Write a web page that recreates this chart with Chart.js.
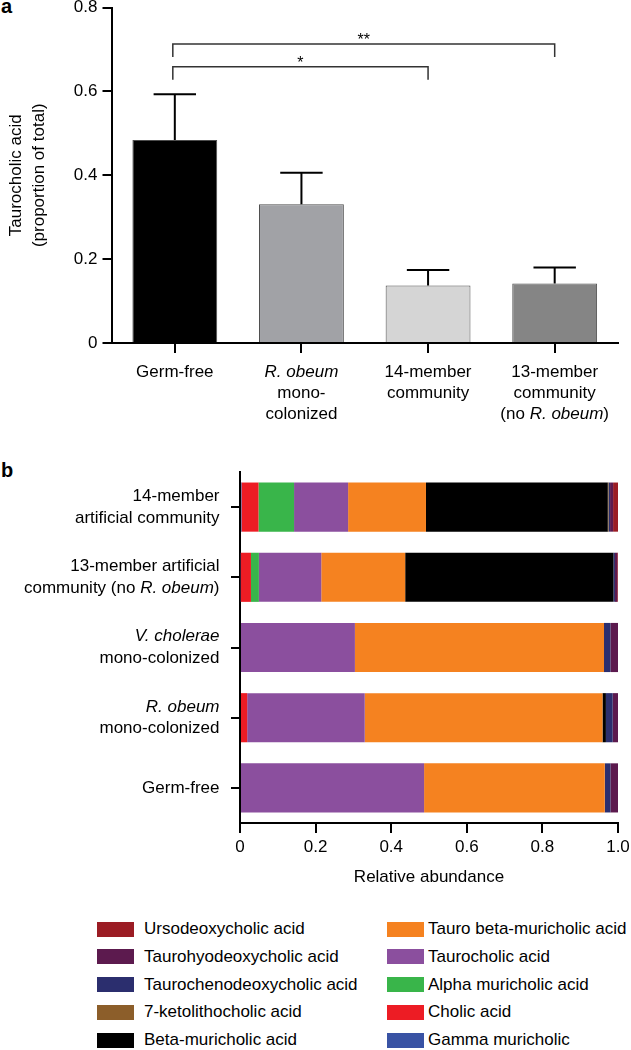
<!DOCTYPE html>
<html>
<head>
<meta charset="utf-8">
<script src="https://cdn.jsdelivr.net/npm/chart.js@4.4.1/dist/chart.umd.min.js"></script>
<style>
  body { margin: 0; background: #fff; font-family: "Liberation Sans", Arial, Helvetica, sans-serif; }
  #wrap { position: relative; width: 631px; height: 1050px; overflow: hidden; }
  #boxA { position: absolute; left: 0; top: 0; width: 631px; height: 430px; }
  #boxB { position: absolute; left: 0; top: 440px; width: 631px; height: 455px; }
  .panel { position: absolute; left: 1px; font-weight: bold; font-size: 20px; line-height: 20px; }
  .sw { position: absolute; width: 37px; height: 15px; }
  .lt { position: absolute; font-size: 17px; line-height: 20px; white-space: nowrap; color: #000; }
</style>
</head>
<body>
<div id="wrap">
  <div class="panel" style="top:-4px">a</div>
  <div class="panel" style="top:460px">b</div>
  <div id="boxA"><canvas id="chartA"></canvas></div>
  <div id="boxB"><canvas id="chartB"></canvas></div>
  <div id="legend"></div>
</div>
<script>
// --- panel a data ---
const groupsA = ["Germ-free", "R. obeum mono-colonized", "14-member community", "13-member community (no R. obeum)"];
const groupLinesA = [["Germ-free"], ["_R. obeum_", "mono-", "colonized"], ["14-member", "community"], ["13-member", "community", "(no _R. obeum_)"]];
const taurocholicMean = [0.484, 0.331, 0.137, 0.142];
const taurocholicErr = [0.109, 0.075, 0.037, 0.038];
const barColorsA = ["#000000", "#a1a2a6", "#d5d5d5", "#858585"];
const sigPairs = [[0, 3], [0, 2]];
const sigMarks = ["**", "*"];
const sigLevels = [0.713, 0.659];

// --- panel b data (rows top to bottom) ---
const rowsB = ["14-member artificial community", "13-member artificial community (no R. obeum)", "V. cholerae mono-colonized", "R. obeum mono-colonized", "Germ-free"];
const rowLinesB = [["14-member", "artificial community"], ["13-member artificial", "community (no _R. obeum_)"], ["_V. cholerae_", "mono-colonized"], ["_R. obeum_", "mono-colonized"], ["Germ-free"]];
const xTicksB = [0, 0.2, 0.4, 0.6, 0.8, 1.0];

// stacked left to right
const gammaMuricholic = [0.004, 0.002, 0, 0, 0];
const cholic = [0.045, 0.027, 0, 0.019, 0];
const alphaMuricholic = [0.094, 0.021, 0, 0, 0];
const taurocholic = [0.143, 0.165, 0.304, 0.311, 0.487];
const tauroBetaMuricholic = [0.206, 0.222, 0.659, 0.629, 0.478];
const betaMuricholic = [0.481, 0.551, 0, 0.009, 0];
const ketolithocholic = [0.002, 0, 0, 0, 0];
const taurochenodeoxycholic = [0.004, 0.004, 0.017, 0.018, 0.015];
const taurohyodeoxycholic = [0.008, 0.006, 0.020, 0.014, 0.020];
const ursodeoxycholic = [0.013, 0.002, 0, 0, 0];

const compoundNames = ["Gamma muricholic", "Cholic acid", "Alpha muricholic acid", "Taurocholic acid", "Tauro beta-muricholic acid",
  "Beta-muricholic acid", "7-ketolithocholic acid", "Taurochenodeoxycholic acid", "Taurohyodeoxycholic acid", "Ursodeoxycholic acid"];
const compoundValues = [gammaMuricholic, cholic, alphaMuricholic, taurocholic, tauroBetaMuricholic,
  betaMuricholic, ketolithocholic, taurochenodeoxycholic, taurohyodeoxycholic, ursodeoxycholic];
const compoundColors = ["#3953a4", "#ed1c24", "#39b54a", "#8b4f9e", "#f58220",
  "#000000", "#8c5e2a", "#2b2e6e", "#5c1a4e", "#9b1c24"];

const FONT = '"Liberation Sans", Arial, Helvetica, sans-serif';
const FS = 17;
Chart.defaults.font.family = FONT;
Chart.defaults.color = "#000";

// draw text where _..._ parts are italic
function richWidth(ctx, line) {
  let w = 0;
  line.split("_").forEach((part, i) => {
    ctx.font = (i % 2 ? "italic " : "") + FS + "px " + FONT;
    w += ctx.measureText(part).width;
  });
  return w;
}
function drawRich(ctx, line, x, y, align) {
  const w = richWidth(ctx, line);
  let cx = align === "right" ? x - w : x - w / 2;
  ctx.textBaseline = "middle";
  ctx.textAlign = "left";
  line.split("_").forEach((part, i) => {
    ctx.font = (i % 2 ? "italic " : "") + FS + "px " + FONT;
    ctx.fillText(part, cx, y);
    cx += ctx.measureText(part).width;
  });
}

const panelAExtras = {
  id: "panelAExtras",
  afterDatasetsDraw(chart) {
    const ctx = chart.ctx;
    const y = chart.scales.y;
    const bars = chart.getDatasetMeta(0).data;
    ctx.save();
    ctx.strokeStyle = "#000";
    ctx.lineWidth = 2;
    // error bars (upper only)
    bars.forEach((bar, i) => {
      const top = y.getPixelForValue(taurocholicMean[i] + taurocholicErr[i]);
      const base = y.getPixelForValue(taurocholicMean[i]);
      const half = bar.width * 0.25;
      ctx.beginPath();
      ctx.moveTo(bar.x, base);
      ctx.lineTo(bar.x, top);
      ctx.moveTo(bar.x - half, top);
      ctx.lineTo(bar.x + half, top);
      ctx.stroke();
    });
    // significance brackets
    ctx.lineWidth = 1.5;
    ctx.strokeStyle = "#333";
    sigPairs.forEach((p, k) => {
      const x1 = bars[p[0]].x - 2, x2 = bars[p[1]].x;
      const yh = y.getPixelForValue(sigLevels[k]);
      const yl = y.getPixelForValue(sigLevels[k] - 0.031);
      ctx.beginPath();
      ctx.moveTo(x1, yl);
      ctx.lineTo(x1, yh);
      ctx.lineTo(x2, yh);
      ctx.lineTo(x2, yl);
      ctx.stroke();
      ctx.fillStyle = "#000";
      ctx.font = "16px " + FONT;
      ctx.textAlign = "center";
      ctx.textBaseline = "alphabetic";
      ctx.fillText(sigMarks[k], (x1 + x2) / 2, yh + 1);
    });
    // category labels
    ctx.fillStyle = "#000";
    const base = chart.chartArea.bottom;
    groupLinesA.forEach((lines, i) => {
      lines.forEach((ln, j) => drawRich(ctx, ln, bars[i].x, base + 29 + j * 21, "center"));
    });
    ctx.restore();
  }
};

new Chart(document.getElementById("chartA"), {
  type: "bar",
  data: {
    labels: groupsA,
    datasets: [{
      data: taurocholicMean,
      backgroundColor: barColorsA,
      borderColor: "#4d4d4d",
      borderWidth: 1,
      barPercentage: 0.67,
      categoryPercentage: 1
    }]
  },
  options: {
    responsive: true,
    maintainAspectRatio: false,
    animation: false,
    layout: { padding: { top: 0, right: 13, left: 0, bottom: 0 } },
    plugins: { legend: { display: false }, tooltip: { enabled: false } },
    scales: {
      x: {
        grid: { drawOnChartArea: false, offset: false, tickLength: 10, color: "#000", lineWidth: 2 },
        border: { color: "#000", width: 2 },
        ticks: { display: false },
        afterFit: s => { s.height = 87; s.paddingLeft = 0; s.paddingRight = 0; }
      },
      y: {
        min: 0, max: 0.8,
        ticks: { stepSize: 0.2, color: "#000", font: { size: FS }, padding: 5 },
        grid: { drawOnChartArea: false, tickLength: 9, color: "#000", lineWidth: 2 },
        border: { color: "#000", width: 2 },
        title: {
          display: true,
          text: ["Taurocholic acid", "(proportion of total)"],
          color: "#000",
          font: { size: FS, lineHeight: 1.35 },
          padding: { top: 5, bottom: 0 }
        },
        afterFit: s => { s.width = 111.5; s.paddingTop = 7.5; s.paddingBottom = 0; }
      }
    }
  },
  plugins: [panelAExtras]
});

const panelBLabels = {
  id: "panelBLabels",
  afterDraw(chart) {
    const ctx = chart.ctx;
    const y = chart.scales.y;
    ctx.save();
    ctx.fillStyle = "#000";
    rowLinesB.forEach((lines, i) => {
      const cy = y.getPixelForValue(i);
      lines.forEach((ln, j) => drawRich(ctx, ln, 219.5, cy + (j - (lines.length - 1) / 2) * 21.6, "right"));
    });
    ctx.restore();
  }
};

new Chart(document.getElementById("chartB"), {
  type: "bar",
  data: {
    labels: rowsB,
    datasets: compoundNames.map((name, k) => ({
      label: name,
      data: compoundValues[k],
      backgroundColor: compoundColors[k],
      borderWidth: 0,
      barPercentage: 0.7,
      categoryPercentage: 1
    }))
  },
  options: {
    indexAxis: "y",
    responsive: true,
    maintainAspectRatio: false,
    animation: false,
    layout: { padding: { top: 32, right: 13, left: 0, bottom: 0 } },
    plugins: { legend: { display: false }, tooltip: { enabled: false } },
    scales: {
      x: {
        stacked: true,
        min: 0, max: 1,
        afterBuildTicks: s => { s.ticks = xTicksB.map(v => ({ value: v })); },
        ticks: { color: "#000", font: { size: FS }, padding: 4, callback: v => v === 0 ? "0" : v.toFixed(1) },
        grid: { drawOnChartArea: false, tickLength: 10, color: "#000", lineWidth: 2 },
        border: { color: "#000", width: 2 },
        title: { display: true, text: "Relative abundance", color: "#000", font: { size: FS, lineHeight: 1.3 }, padding: { top: 4, bottom: 7 } },
        afterFit: s => { s.height = 72; s.paddingLeft = 0; s.paddingRight = 0; }
      },
      y: {
        stacked: true,
        grid: { drawOnChartArea: false, offset: false, tickLength: 9, color: "#000", lineWidth: 2 },
        border: { color: "#000", width: 2 },
        ticks: { display: false },
        afterFit: s => { s.width = 240; s.paddingTop = 0; s.paddingBottom = 0; }
      }
    }
  },
  plugins: [panelBLabels]
});

// legend: two columns, reversed stacking order
const legend = document.getElementById("legend");
const legendOrder = compoundNames.map((_, k) => k).reverse();
legendOrder.forEach((k, n) => {
  const col = Math.floor(n / 5), row = n % 5;
  const cy = 929 + row * 27.8;
  const sw = document.createElement("div");
  sw.className = "sw";
  sw.style.left = (col ? 387 : 97) + "px";
  sw.style.top = (cy - 7.5) + "px";
  sw.style.background = compoundColors[k];
  legend.appendChild(sw);
  const t = document.createElement("div");
  t.className = "lt";
  t.style.left = (col ? 428 : 144) + "px";
  t.style.top = (cy - 10) + "px";
  t.textContent = compoundNames[k];
  legend.appendChild(t);
});
</script>
</body>
</html>
